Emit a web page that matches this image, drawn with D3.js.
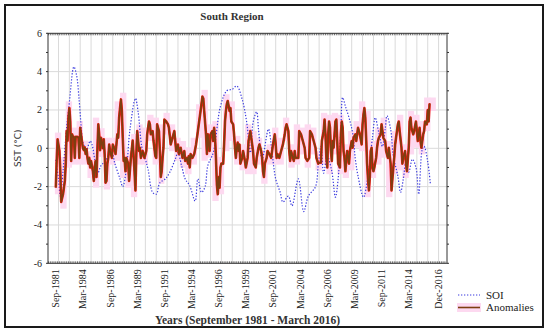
<!DOCTYPE html>
<html><head><meta charset="utf-8">
<script src="https://cdn.jsdelivr.net/npm/d3@7"></script>
<style>body{margin:0;background:#fff}</style>
</head><body><svg id="c" width="550" height="334"></svg>
<script>
// months counted from Sep-1981
const anomMonth = [0,1,2,4,5,6,8,10,11,12,13,14,15,16,17,18,19,20,21,22,24,25,26,27,28,30,31,32,33,34,35,36,37,38,39,41,42,43,44,45,46,47,48,49,50,52,53,54,55,56,57,58,59,60,62,63,65,66,67,68,69,70,71,72,73,74,75,76,77,78,80,81,83,85,87,88,89,90,92,93,94,96,98,100,101,103,104,105,107,108,110,111,112,114,115,116,117,118,119,120,122,124,125,127,129,131,133,135,136,138,140,142,143,145,146,147,148,149,151,153,155,157,158,160,162,163,164,166,167,168,169,170,171,173,174,175,176,177,178,179,180,181,182,183,185,186,187,188,189,190,192,193,194,196,197,198,199,200,201,202,203,204,206,207,209,210,212,213,215,216,218,219,221,222,224,225,227,228,229,230,231,233,234,236,238,240,242,243,244,245,247,249,251,253,254,255,257,258,259,260,262,263,264,265,266,268,269,271,273,275,276,278,280,281,283,285,287,288,290,291,293,294,296,297,298,299,300,301,302,303,304,305,306,307,309,310,311,312,314,315,316,317,318,319,320,321,322,324,325,327,328,329,331,332,333,334,336,338,339,340,341,342,343,344,345,346,347,348,349,350,351,352,354,355,356,357,359,360,361,362,364,365,367,368,370,371,373,374,375,376,378,379,380,382,383,384,386,387,388,390,391,392,393,395,396,398,399,400,402,403,404,406,407,408,410,411,412,413,414];
const anomValue = [-2.05,-0.66,0.47,-0.14,-1.2,-2.8,-2.4,-1.7,-0.8,0.9,0.4,1.6,2.1,1.4,-0.66,0.73,0.6,0.6,-0.5,0.6,0.6,0.55,-0.5,1.07,0.7,0,-0.1,0.05,-0.3,-0.05,-0.5,-0.8,-0.5,-1.0,-0.66,-1.2,-1.7,-1.0,-0.66,-1.5,0,1.25,0.7,-0.1,0.55,0,0.47,-0.3,-1.8,-1.7,-0.8,-0.5,0.2,-0.14,-0.5,0.2,-0.05,-0.3,0.2,0.73,0.55,1.6,2.1,2.55,2.0,0.55,-0.66,-0.5,-1.2,-0.5,-0.8,-1.7,-0.5,0.4,-1.2,-2.2,-0.3,0.9,-0.14,0.03,-0.5,-0.14,-0.5,-0.14,0.73,1.4,1.25,0.73,0.9,0.38,-0.4,-0.5,1.25,0.9,-0.14,-1.5,-1.2,-0.5,0.03,1.5,1.4,1.25,1.07,0.2,0.55,0.9,-0.14,0.2,-0.3,0.03,-0.5,-0.14,-0.66,-0.5,-0.8,-0.4,-1.0,-0.3,-0.5,-0.3,0.2,0.9,1.25,1.95,2.7,2.6,1.95,0.73,-0.3,0.73,0.2,-0.14,0.73,0.9,0.38,1.07,0.55,-0.5,-1.9,-2.4,-1.5,-2.05,-1.0,-0.8,-0.8,0.2,1.4,1.95,2.3,2.47,1.95,2.1,1.4,1.25,0.73,0.03,-0.5,0.03,0.3,-0.14,0.2,-0.8,-0.5,-0.14,-0.66,-1.0,-0.5,0.38,0.9,0.55,-0.14,-0.8,-1.0,-0.5,0.03,0.2,-0.14,-0.5,-1.2,-1.5,-0.8,-0.5,-0.14,-0.3,-0.5,0.2,0.73,0.2,-0.5,-0.3,-0.5,-0.14,0.2,0.73,1.07,1.25,0.9,-0.14,-0.66,-0.14,-0.5,-0.66,-0.14,-0.5,-0.5,-0.5,0.9,0.73,0.38,0.03,-0.5,-0.66,-0.5,0.9,0.73,0.38,0.03,-0.5,-0.8,-0.75,-0.75,0.38,0.9,1.5,0.73,-0.5,-1.0,0.73,1.4,1.07,-0.14,-0.66,0.38,0.03,1.4,1.5,0.38,-0.8,-1.0,0.73,1.4,1.07,-0.14,-0.5,-1.2,-0.66,-0.14,-0.8,-0.14,0.38,0.03,0.55,0.73,0.38,0.73,1.07,0.73,0.2,1.25,1.77,2.1,1.6,0.5,-0.8,-1.6,-2.2,-1.5,-0.14,0.03,-1.0,-1.2,-1.0,-0.5,0.03,0.38,0.55,0.73,1.25,0.9,0.55,0.38,-0.14,-0.5,0.03,-0.8,-2.2,-1.0,-0.5,0.2,0.55,1.25,1.4,0.9,0.03,-0.8,-0.5,-0.14,-0.8,-1.2,0.03,1.4,1.6,1.07,0.73,0.9,1.4,0.9,0.38,1.07,0.38,0.03,0.73,0.9,1.4,1.25,2.0,1.4,2.3,2.3];
const soiMonth = [0,3,5,8,12,15,20,23,26,28,30,34,38,40,43,46,50,54,58,62,65,71,74,78,82,88,91,95,99,102,107,111,115,121,126,132,135,139,143,148,154,157,161,165,168,174,182,189,195,200,206,211,215,218,222,224,228,235,239,243,248,251,257,261,268,274,279,287,290,293,296,300,305,309,312,315,317,320,324,328,331,334,340,345,350,353,357,361,364,366,370,373,378,381,384,387,390,394,398,401,405,407,411,414];
const soiValue = [-0.6,-1.6,-2.5,-1.2,1.1,2.4,4.25,3.8,2.4,1.16,0.3,-0.05,0.38,0.2,-0.57,-1.35,-0.9,-0.7,-0.4,-0.23,-0.75,-1.6,-2.0,-1.1,1.0,2.6,1.9,0.1,-0.57,-1.1,-2.3,-2.4,-1.8,-1.6,-1.25,-0.57,-0.23,-0.9,-1.6,-1.95,-2.75,-1.6,-2.3,-2.0,-0.9,-0.23,2.2,3.0,3.08,3.25,2.55,1.35,-0.23,1.35,1.9,1.0,-0.57,1.0,-0.23,-1.6,-2.3,-2.8,-2.5,-3.0,-1.6,-3.3,-2.5,-2.0,-0.9,0.1,-1.3,-0.4,-1.2,-2.55,-1.6,1.0,2.65,2.2,1.6,0.8,-0.57,-1.45,-2.55,-1.45,0.6,1.6,0.8,0.1,1.0,1.7,1.0,-0.4,-1.45,-2.3,-1.6,-0.7,-1.25,-0.57,-1.0,-2.4,-0.05,0.1,-0.7,-1.9];
const xTickMonths = [0,30,60,90,120,150,180,210,240,270,300,330,360,390,423];
const xTickLabels = ["Sep-1981","Mar-1984","Sep-1986","Mar-1989","Sep-1991","Mar-1994","Sep-1996","Mar-1999","Sep-2001","Mar-2004","Sep-2006","Mar-2009","Sep-2011","Mar-2014","Dec-2016"];
const yTicks = [-6,-4,-2,0,2,4,6];
const seriesNames = ["SOI","Anomalies"];
const titleText = "South Region";
const xTitle = "Years (September 1981 - March 2016)";
const yTitle = "SST (°C)";

const svg = d3.select("#c");
const L = 48, R = 447, T = 33.3, B = 263.3;
const x = d3.scaleLinear().domain([-8.6, 432.3]).range([L, R]);
const y = d3.scaleLinear().domain([-6, 6]).range([B, T]);
const serif = "'Liberation Serif', 'DejaVu Serif', serif";

// outer frame
svg.append("rect").attr("x",5).attr("y",5).attr("width",538).attr("height",322)
  .attr("fill","#fff").attr("stroke","#1a1a1a").attr("stroke-width",2);

// gridlines
const g = svg.append("g");
g.selectAll(".vg").data(d3.range(3, 432, 12)).join("line")
  .attr("x1",d=>x(d)).attr("x2",d=>x(d)).attr("y1",T).attr("y2",B)
  .attr("stroke","#dadada").attr("stroke-width",1);
g.selectAll(".hg").data(yTicks.slice(1,-1)).join("line")
  .attr("x1",L).attr("x2",R).attr("y1",d=>y(d)).attr("y2",d=>y(d))
  .attr("stroke","#dadada").attr("stroke-width",1);

const anom = anomMonth.map((m,i)=>({m, v: anomValue[i]}));
const soi = soiMonth.map((m,i)=>({m, v: soiValue[i]}));

// pink range blocks
const blocks = d3.groups(anom, d=>Math.floor(d.m/6));
svg.append("g").selectAll("rect").data(blocks).join("rect")
  .attr("x", d=>x(d[0]*6-1))
  .attr("width", d=>x(d[0]*6+7)-x(d[0]*6))
  .attr("y", d=>y(d3.max(d[1],e=>e.v)+0.35))
  .attr("height", d=>y(d3.min(d[1],e=>e.v)-0.35)-y(d3.max(d[1],e=>e.v)+0.35))
  .attr("fill","#fdd9f0");

const line = d3.line().x(d=>x(d.m)).y(d=>y(d.v));
svg.append("path").datum(soi).attr("fill","none").attr("stroke","#3a3adf")
  .attr("stroke-width",1.2).attr("stroke-dasharray","1.3,1.7")
  .attr("d", d3.line().x(d=>x(d.m)).y(d=>y(d.v)).curve(d3.curveCatmullRom)(soi));
svg.append("path").datum(anom).attr("fill","none").attr("stroke","#f01a10")
  .attr("stroke-width",2.6).attr("stroke-linejoin","round").attr("d", line);
svg.append("path").datum(anom).attr("fill","none").attr("stroke","#7e3e10")
  .attr("stroke-width",1.6).attr("stroke-linejoin","round").attr("d", line);

// plot frame
svg.append("rect").attr("x",L).attr("y",T).attr("width",R-L).attr("height",B-T)
  .attr("fill","none").attr("stroke","#333").attr("stroke-width",1);

// minor ticks top/bottom
const mt = d3.range(-8, 432, 2);
svg.append("g").selectAll("line").data(mt).join("line")
  .attr("x1",d=>x(d)).attr("x2",d=>x(d)).attr("y1",T).attr("y2",T+2)
  .attr("stroke","#333").attr("stroke-width",0.7);
svg.append("g").selectAll("line").data(mt).join("line")
  .attr("x1",d=>x(d)).attr("x2",d=>x(d)).attr("y1",B).attr("y2",B-2)
  .attr("stroke","#333").attr("stroke-width",0.7);
// y ticks every unit
const yt = d3.range(-6, 7, 1);
svg.append("g").selectAll("line").data(yt).join("line")
  .attr("x1",L-2).attr("x2",L).attr("y1",d=>y(d)).attr("y2",d=>y(d)).attr("stroke","#333");
svg.append("g").selectAll("line").data(yt).join("line")
  .attr("x1",R).attr("x2",R+2).attr("y1",d=>y(d)).attr("y2",d=>y(d)).attr("stroke","#333");

// y labels
svg.append("g").selectAll("text").data(yTicks).join("text")
  .attr("x",42).attr("y",d=>y(d)).attr("dy","0.35em").attr("text-anchor","end")
  .attr("font-family",serif).attr("font-size",10).attr("fill","#222").text(d=>d);
// x labels
svg.append("g").selectAll("text").data(xTickMonths).join("text")
  .attr("transform",d=>`translate(${x(d)},${B+6}) rotate(-90)`)
  .attr("dy","0.35em").attr("text-anchor","end")
  .attr("font-family",serif).attr("font-size",10).attr("fill","#222")
  .text((d,i)=>xTickLabels[i]);

svg.append("text").attr("x",232).attr("y",20).attr("text-anchor","middle")
  .attr("font-family",serif).attr("font-size",11).attr("font-weight","bold").attr("fill","#333").text(titleText);
svg.append("text").attr("x",(L+R)/2).attr("y",324).attr("text-anchor","middle")
  .attr("font-family",serif).attr("font-size",11.5).attr("font-weight","bold").attr("fill","#333").text(xTitle);
svg.append("text").attr("transform",`translate(21,${y(0)}) rotate(-90)`).attr("text-anchor","middle")
  .attr("font-family","'DejaVu Sans', sans-serif").attr("font-size",9).attr("fill","#333").text(yTitle);

// legend
const lg = svg.append("g");
lg.append("line").attr("x1",458).attr("x2",480).attr("y1",295).attr("y2",295)
  .attr("stroke","#3a3adf").attr("stroke-width",1.2).attr("stroke-dasharray","1.3,1.7");
lg.append("rect").attr("x",457).attr("y",303).attr("width",24).attr("height",9).attr("fill","#fdd9f0");
lg.append("line").attr("x1",458).attr("x2",480).attr("y1",307.5).attr("y2",307.5)
  .attr("stroke","#7e3e10").attr("stroke-width",1.6);
lg.selectAll("text").data(seriesNames).join("text")
  .attr("x",486).attr("y",(d,i)=>295+i*12.5).attr("dy","0.35em")
  .attr("font-family",serif).attr("font-size",11).attr("fill","#222").text(d=>d);
</script></body></html>
